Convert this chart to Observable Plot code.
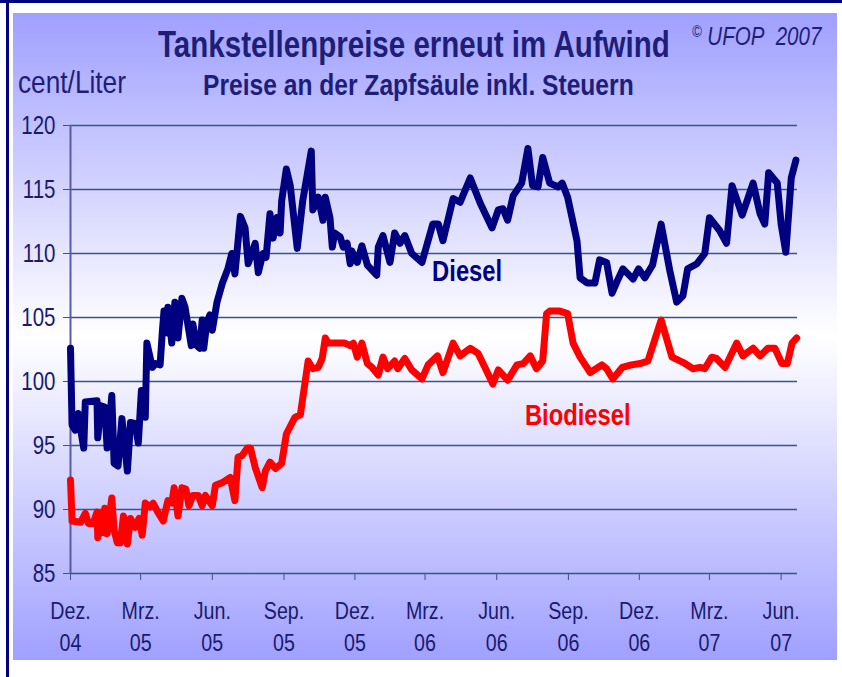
<!DOCTYPE html>
<html>
<head>
<meta charset="utf-8">
<script src="https://cdn.jsdelivr.net/npm/d3@7"></script>
<script src="https://cdn.jsdelivr.net/npm/@observablehq/plot@0.6"></script>
<style>
  body { margin: 0; background: #fff; }
  #wrap { position: relative; width: 842px; height: 677px; overflow: hidden; background: #fff;
          font-family: "Liberation Sans", Arial, sans-serif; color: #1a1a6e; }
  .abs { position: absolute; white-space: nowrap; line-height: 1; }
  .narrow { transform: scaleX(0.82); transform-origin: 0 50%; }
  #topbar { left: 0; top: 0; width: 842px; height: 3px; background: #000080; }
  #leftbar { left: 6px; top: 0; width: 3px; height: 677px; background: #000080; }
  #panel { left: 13px; top: 13px; width: 824px; height: 647px;
           background: linear-gradient(to bottom, #a0a0ff 0%, #ffffff 50%, #a0a0ff 100%); }
  #title { left: 158px; top: 27px; font-size: 36px; font-weight: bold; color: #1e1e78; }
  #copy { left: 692px; top: 24px; font-size: 25px; font-style: italic; color: #1e1e78; }
  #copy sup { font-size: 16px; vertical-align: 8px; }
  #unit { left: 18px; top: 66px; font-size: 32px; color: #1e1e78; }
  #subtitle { left: 203px; top: 70px; font-size: 30px; font-weight: bold; color: #1e1e78; }
  #chart { left: 0; top: 100px; }
</style>
</head>
<body>
<div id="wrap">
  <div class="abs" id="topbar"></div>
  <div class="abs" id="leftbar"></div>
  <div class="abs" id="panel"></div>
  <div class="abs narrow" id="title">Tankstellenpreise erneut im Aufwind</div>
  <div class="abs narrow" id="copy"><sup>©</sup> UFOP&nbsp; 2007</div>
  <div class="abs narrow" id="unit">cent/Liter</div>
  <div class="abs narrow" id="subtitle">Preise an der Zapfsäule inkl. Steuern</div>
  <div class="abs" id="chart"></div>
</div>
<script>
// ---- data ----
const dieselDates = ["2004-12-01","2004-12-03","2004-12-07","2004-12-11","2004-12-15","2004-12-18","2004-12-20","2005-01-04","2005-01-05","2005-01-09","2005-01-14","2005-01-17","2005-01-23","2005-01-26","2005-01-31","2005-02-05","2005-02-12","2005-02-16","2005-02-22","2005-02-26","2005-03-02","2005-03-07","2005-03-09","2005-03-16","2005-03-20","2005-03-26","2005-03-29","2005-03-31","2005-04-04","2005-04-05","2005-04-10","2005-04-14","2005-04-18","2005-04-23","2005-04-27","2005-05-05","2005-05-07","2005-05-12","2005-05-16","2005-05-19","2005-05-21","2005-05-25","2005-05-29","2005-06-01","2005-06-07","2005-06-14","2005-06-21","2005-06-26","2005-06-30","2005-07-07","2005-07-13","2005-07-17","2005-07-26","2005-07-30","2005-08-05","2005-08-09","2005-08-14","2005-08-18","2005-08-23","2005-08-27","2005-08-29","2005-09-04","2005-09-09","2005-09-18","2005-09-25","2005-10-06","2005-10-08","2005-10-15","2005-10-21","2005-10-24","2005-10-30","2005-11-02","2005-11-05","2005-11-12","2005-11-16","2005-11-21","2005-11-25","2005-11-27","2005-12-04","2005-12-10","2005-12-17","2005-12-29","2005-12-31","2006-01-06","2006-01-15","2006-01-21","2006-01-28","2006-02-03","2006-02-12","2006-02-25","2006-03-11","2006-03-18","2006-03-24","2006-04-06","2006-04-15","2006-04-28","2006-05-11","2006-05-26","2006-06-03","2006-06-09","2006-06-15","2006-06-22","2006-07-03","2006-07-11","2006-07-17","2006-07-24","2006-07-30","2006-08-08","2006-08-19","2006-08-24","2006-08-31","2006-09-12","2006-09-16","2006-09-25","2006-10-05","2006-10-11","2006-10-20","2006-10-27","2006-11-03","2006-11-10","2006-11-23","2006-11-30","2006-12-08","2006-12-18","2006-12-29","2007-01-09","2007-01-18","2007-01-26","2007-02-01","2007-02-13","2007-02-23","2007-03-01","2007-03-14","2007-03-23","2007-03-30","2007-04-12","2007-04-26","2007-05-05","2007-05-11","2007-05-16","2007-05-27","2007-06-01","2007-06-07","2007-06-14","2007-06-20"];
const dieselValues = [102.6,96.6,96.2,97.5,95.9,94.8,98.4,98.5,95.6,98.1,98.0,94.8,98.9,93.6,93.4,97.1,93.0,96.8,96.7,95.2,99.3,97.2,103.0,101.1,101.4,101.3,104.0,105.5,103.8,105.8,103.0,106.2,103.4,106.5,105.8,102.8,104.5,102.8,102.6,104.8,102.6,104.6,105.2,104.0,106.2,107.7,108.8,110.0,108.4,112.9,112.0,109.2,110.8,108.5,110.0,109.7,113.1,111.2,112.8,111.6,114.1,116.6,115.3,110.4,114.1,118.0,113.4,114.4,112.6,114.4,112.8,110.5,111.6,111.3,110.5,110.8,109.2,110.2,109.3,110.6,109.1,108.3,110.5,111.4,109.3,111.6,110.8,111.4,110.0,109.3,112.3,112.3,111.0,114.3,114.0,115.9,113.9,112.0,113.4,113.5,112.6,114.5,115.5,118.2,115.3,115.2,117.5,115.5,115.2,115.5,114.4,111.0,108.1,107.7,107.7,109.5,109.3,106.9,107.9,108.8,108.0,108.8,108.1,109.1,112.3,108.7,106.2,106.7,108.8,109.2,110.0,112.8,111.8,110.8,115.3,113.0,115.5,113.1,112.3,116.3,115.5,112.3,110.1,115.9,117.3];

const bioDates = ["2004-12-01","2004-12-03","2004-12-14","2004-12-20","2004-12-24","2004-12-30","2005-01-04","2005-01-05","2005-01-11","2005-01-12","2005-01-14","2005-01-17","2005-01-23","2005-01-26","2005-01-30","2005-02-03","2005-02-07","2005-02-12","2005-02-16","2005-02-22","2005-02-27","2005-03-03","2005-03-07","2005-03-13","2005-03-17","2005-03-23","2005-03-30","2005-04-05","2005-04-10","2005-04-13","2005-04-18","2005-04-23","2005-04-28","2005-05-02","2005-05-07","2005-05-14","2005-05-19","2005-05-23","2005-06-01","2005-06-05","2005-06-14","2005-06-24","2005-06-30","2005-07-04","2005-07-09","2005-07-16","2005-07-20","2005-07-26","2005-08-04","2005-08-08","2005-08-14","2005-08-21","2005-08-29","2005-09-04","2005-09-15","2005-09-22","2005-10-02","2005-10-08","2005-10-15","2005-10-20","2005-10-24","2005-10-28","2005-11-12","2005-11-18","2005-11-25","2005-11-29","2005-12-04","2005-12-10","2005-12-17","2005-12-23","2005-12-31","2006-01-06","2006-01-12","2006-01-21","2006-01-25","2006-02-03","2006-02-12","2006-02-25","2006-03-05","2006-03-17","2006-03-24","2006-04-06","2006-04-15","2006-04-28","2006-05-08","2006-05-20","2006-05-27","2006-06-03","2006-06-15","2006-06-27","2006-07-05","2006-07-14","2006-07-22","2006-07-30","2006-08-04","2006-08-08","2006-08-21","2006-08-31","2006-09-07","2006-09-16","2006-09-29","2006-10-14","2006-10-20","2006-10-28","2006-11-09","2006-11-21","2006-12-02","2006-12-12","2006-12-29","2007-01-12","2007-01-26","2007-02-08","2007-02-17","2007-02-23","2007-03-04","2007-03-10","2007-03-21","2007-04-05","2007-04-13","2007-04-26","2007-05-05","2007-05-15","2007-05-24","2007-06-02","2007-06-09","2007-06-15","2007-06-21"];
const bioValues = [92.3,89.1,89.0,89.7,88.9,88.9,89.8,87.8,89.8,88.2,90.1,88.1,90.9,88.4,87.4,87.4,89.5,87.3,89.3,88.6,89.3,88.0,90.5,90.2,90.5,89.8,89.1,90.7,90.5,91.7,89.5,91.7,91.6,90.3,91.1,91.1,90.3,91.1,90.3,91.9,92.1,92.5,90.7,94.1,94.2,94.8,94.8,93.3,91.7,93.0,93.7,93.2,93.6,95.9,97.2,97.4,101.6,101.0,101.1,101.8,103.4,103.0,103.0,103.0,102.8,103.0,101.9,103.0,101.4,101.1,100.5,101.9,101.0,101.6,101.0,101.8,100.9,100.2,101.3,102.0,100.7,103.0,102.0,102.6,102.2,100.7,99.8,100.9,100.1,101.3,101.4,102.0,101.0,101.6,105.3,105.5,105.5,105.3,103.0,101.9,100.7,101.3,101.0,100.2,101.1,101.3,101.4,101.6,104.8,101.9,101.5,101.0,101.1,101.0,101.9,101.8,101.1,103.0,102.0,102.6,102.0,102.6,102.6,101.4,101.4,103.0,103.4];

const xTickDates = ["2004-12-01","2005-03-01","2005-06-01","2005-09-01","2005-12-01","2006-03-01","2006-06-01","2006-09-01","2006-12-01","2007-03-01","2007-06-01"];
const xTickMonths = ["Dez.","Mrz.","Jun.","Sep.","Dez.","Mrz.","Jun.","Sep.","Dez.","Mrz.","Jun."];
const xTickYears = ["04","05","05","05","05","06","06","06","06","07","07"];
const yTicks = [85, 90, 95, 100, 105, 110, 115, 120];
const xDomain = ["2004-12-01", "2007-06-22"];
const yDomain = [85, 120];

const seriesNames = ["Diesel", "Biodiesel"];
const seriesLabelDates = ["2006-04-24", "2006-09-13"];
const seriesLabelValues = [108.6, 97.3];

// ---- build tables ----
const diesel = dieselDates.map((d, i) => ({date: new Date(d), value: dieselValues[i]}));
const bio = bioDates.map((d, i) => ({date: new Date(d), value: bioValues[i]}));
const ticks = xTickDates.map(d => new Date(d));
const monthOf = new Map(ticks.map((d, i) => [+d, xTickMonths[i]]));
const yearOf = new Map(ticks.map((d, i) => [+d, xTickYears[i]]));
const labels = seriesNames.map((n, i) => ({name: n, date: new Date(seriesLabelDates[i]), value: seriesLabelValues[i]}));

const gridColor = "#3a5580";
const textColor = "#1a1a6e";
const fontFam = '"Liberation Sans", Arial, sans-serif';

const chart = Plot.plot({
  width: 842,
  height: 560,
  marginLeft: 70,
  marginRight: 45,
  marginTop: 25,
  marginBottom: 87,
  style: {background: "transparent", fontFamily: fontFam, color: textColor, overflow: "visible"},
  x: {type: "utc", domain: xDomain.map(d => new Date(d))},
  y: {domain: yDomain},
  marks: [
    Plot.ruleY(yTicks, {stroke: gridColor, strokeWidth: 1.5}),
    Plot.ruleX([new Date(xDomain[0])], {stroke: "#5a5aaa", strokeWidth: 2}),
    Plot.axisY({ticks: yTicks, tickSize: 7, tickPadding: 8, fontSize: 25, label: null, stroke: gridColor, fill: textColor}),
    Plot.axisX({ticks, tickFormat: d => monthOf.get(+d), tickSize: 7, tickPadding: 21, fontSize: 24, label: null, stroke: gridColor, fill: textColor}),
    Plot.axisX({ticks, tickFormat: d => yearOf.get(+d), tickSize: 0, tickPadding: 60, fontSize: 24, label: null, fill: textColor}),
    Plot.lineY(bio, {x: "date", y: "value", stroke: "#ff0000", strokeWidth: 7, strokeLinejoin: "round", strokeLinecap: "round"}),
    Plot.lineY(diesel, {x: "date", y: "value", stroke: "#000080", strokeWidth: 7, strokeLinejoin: "round", strokeLinecap: "round"}),
    Plot.text(labels.filter(d => d.name === "Diesel"), {x: "date", y: "value", text: "name", fill: "#000080", fontSize: 29, fontWeight: "bold"}),
    Plot.text(labels.filter(d => d.name === "Biodiesel"), {x: "date", y: "value", text: "name", fill: "#ff0000", fontSize: 29, fontWeight: "bold"})
  ]
});

// narrow the text horizontally (the reference uses a condensed face)
d3.select(chart).selectAll("text").each(function() {
  const t = this.getAttribute("transform");
  if (t) {
    this.setAttribute("transform", t + " scale(0.82,1)");
  } else {
    const x = +(this.getAttribute("x") || 0), y = +(this.getAttribute("y") || 0);
    this.removeAttribute("x"); this.removeAttribute("y");
    this.setAttribute("transform", `translate(${x},${y}) scale(0.82,1)`);
  }
});
document.getElementById("chart").appendChild(chart);
</script>
</body>
</html>
